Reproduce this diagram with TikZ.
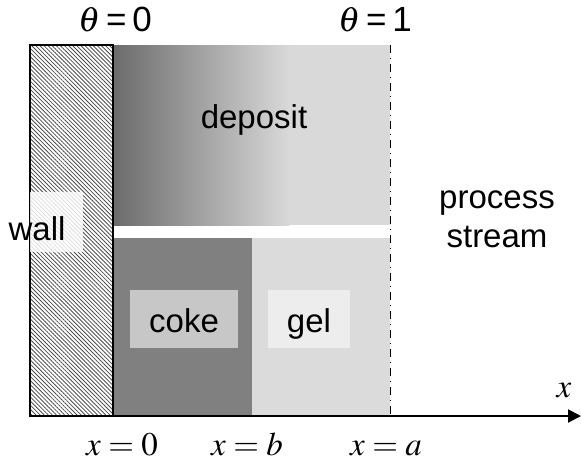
\documentclass[tikz,border=0pt]{standalone}
\usepackage{mathptmx}
\usepackage[no-math]{fontspec}
\setmainfont{Liberation Sans}
\usetikzlibrary{patterns.meta, arrows.meta}

\begin{document}
\begin{tikzpicture}[
            x=0.5pt, y=-0.5pt, % one unit is one pixel of the sketch, y downwards
            every node/.style={font=\fontsize{16.5}{19.5}\selectfont, inner sep=0pt}, % Sans labels
            labelbox/.style={minimum height=29pt, text height=13pt, text depth=0pt}, % light boxes behind the layer names
            boundary/.style={line width=0.5pt, dash pattern=on 4pt off 2.5pt on 0.5pt off 2.5pt}
            ]

                % Frame of the sketch
                \useasboundingbox (0,0) rectangle (581,461);

                % Corner points of the layers
                \coordinate (wallTop) at (30,45);
                \coordinate (origin) at (30,416);
                \coordinate (wallEdge) at (113,416);
                \coordinate (streamTop) at (390,45);
                \coordinate (streamBot) at (390,416);
                \coordinate (axisEnd) at (581,416);

                % Deposit with its shading and the two layers below
                \fill[left color=black!58, right color=black!15] (113,45) rectangle (289,225);
                \fill[black!15] (289,45) rectangle (390,225);
                \fill[black!50] (113,238) rectangle (252,416);
                \fill[black!14] (252,238) rectangle (390,416);

                % Wall
                \draw[line width=0.8pt, pattern={Lines[angle=-45, distance=1.45pt, line width=0.4pt]}, pattern color=black!70]
                    (wallTop) rectangle (wallEdge);
                \fill[white, fill opacity=0.82] (30,192) rectangle (83,252);

                % Edge of the process stream
                \draw[boundary] (streamTop) -- (streamBot);

                % x axis
                \draw[line width=1pt, -{Triangle[length=6.5pt, width=6.5pt]}] (origin) -- (axisEnd);

                % Layer names
                \node[anchor=base] (deposit) at (254,128) {deposit};
                \node[labelbox, minimum width=54pt, fill=black!22] (coke) at (184,319) {coke};
                \node[labelbox, minimum width=41pt, fill=black!7] (gel) at (309,319) {gel};
                \node[anchor=base] (wall) at (37,240) {wall};
                \node[align=center] (stream) at (497,219) {process\\stream};

                % Values of theta
                \node[anchor=base, font=\fontsize{17.5}{20}\selectfont] (thetaZero) at (115,31) {$\theta$\,=\,0};
                \node[anchor=base, font=\fontsize{17.5}{20}\selectfont] (thetaOne) at (375,31) {$\theta$\,=\,1};

                % Positions along x
                \node[anchor=base] (xAxis) at (564,397) {$x$};
                \node[anchor=base] (xZero) at (122,455) {$x=0$};
                \node[anchor=base] (xB) at (247,455) {$x=b$};
                \node[anchor=base] (xA) at (386,455) {$x=a$};

            \end{tikzpicture}
\end{document}
